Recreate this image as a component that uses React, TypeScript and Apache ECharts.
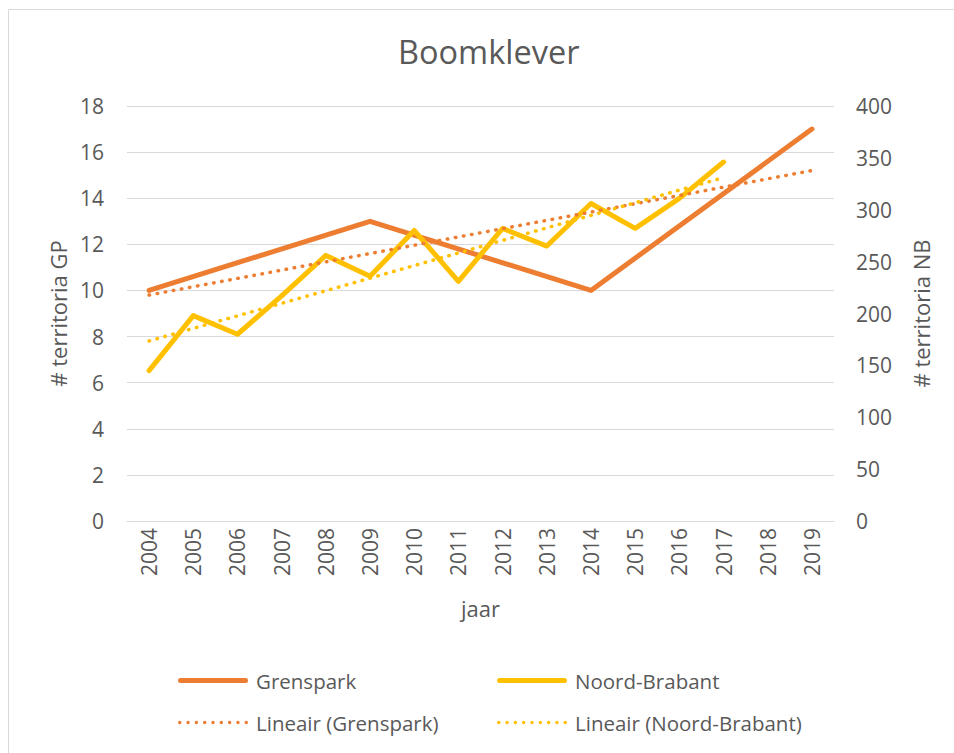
import React, { useEffect, useRef } from "react";
import * as echarts from "echarts";

const years = ["2004","2005","2006","2007","2008","2009","2010","2011","2012","2013","2014","2015","2016","2017","2018","2019"];
const grenspark = [10, null, null, null, null, 13, null, null, null, null, 10, null, null, null, null, 17];
const noordBrabant = [145, 198, 180, 217, 256, 236, 280, 231, 282, 265, 306, 282, 311, 346, null, null];
const trendGrenspark = [9.8, null, null, null, null, null, null, null, null, null, null, null, null, null, null, 15.2];
const trendNoordBrabant = [173.5, null, null, null, null, null, null, null, null, null, null, null, null, 331, null, null];

const FONT = "Open Sans";
const TXT = "#595959";
const GRID = "#d9d9d9";
const ORANGE = "#ED7D31";
const YELLOW = "#FFC000";

const SOLID_ICON = "path://M2.5,0H67.5A2.5,2.5,0,0,1,67.5,5H2.5A2.5,2.5,0,0,1,2.5,0Z";
function dottedIcon(): string {
  const r = 1.75;
  const n = 9;
  const step = (70 - 2 * r) / (n - 1);
  let d = "path://";
  for (let i = 0; i < n; i++) {
    const cx = r + i * step;
    d += `M${(cx - r).toFixed(3)},${r}A${r},${r},0,1,0,${(cx + r).toFixed(3)},${r}A${r},${r},0,1,0,${(cx - r).toFixed(3)},${r}Z`;
  }
  return d;
}
const DOTTED_ICON = dottedIcon();

export default function App() {
  const ref = useRef<HTMLDivElement>(null);
  useEffect(() => {
    document.body.style.margin = "0";
    const chart = echarts.init(ref.current!, null, { renderer: "svg" });
    const legendBase = {
      orient: "horizontal",
      padding: 0,
      itemWidth: 70,
      textStyle: { fontFamily: FONT, fontSize: 20.5, color: TXT, padding: [0, 0, 0, 3] },
      itemStyle: { borderWidth: 0 },
      selectedMode: false,
    };
    chart.setOption({
      animation: false,
      backgroundColor: "#ffffff",
      textStyle: { fontFamily: FONT },
      title: {
        text: "Boomklever",
        left: 393,
        top: 30,
        textStyle: { fontFamily: FONT, fontSize: 32.5, fontWeight: "normal", color: TXT },
      },
      graphic: [
        {
          type: "rect",
          left: 6,
          top: 7,
          shape: { width: 1000, height: 800 },
          style: { fill: "none", stroke: GRID, lineWidth: 1 },
          silent: true,
        },
      ],
      grid: { left: 127, right: 120, top: 106, bottom: 232, containLabel: false },
      legend: [
        { ...legendBase, itemHeight: 5, data: [{ name: "Grenspark", icon: SOLID_ICON }], left: 178, top: 670 },
        { ...legendBase, itemHeight: 5, data: [{ name: "Noord-Brabant", icon: SOLID_ICON }], left: 497, top: 670 },
        { ...legendBase, itemHeight: 3.5, data: [{ name: "Lineair (Grenspark)", icon: DOTTED_ICON }], left: 178, top: 712 },
        { ...legendBase, itemHeight: 3.5, data: [{ name: "Lineair (Noord-Brabant)", icon: DOTTED_ICON }], left: 497, top: 712 },
      ],
      xAxis: {
        type: "category",
        data: years,
        boundaryGap: true,
        name: "jaar",
        nameLocation: "middle",
        nameGap: 76,
        nameTextStyle: { fontFamily: FONT, fontSize: 22, color: TXT },
        axisLine: { show: true, lineStyle: { color: GRID, width: 1 } },
        axisTick: { show: false },
        axisLabel: { rotate: 90, fontFamily: FONT, fontSize: 21, color: TXT, margin: 7 },
      },
      yAxis: [
        {
          type: "value",
          min: 0,
          max: 18,
          interval: 2,
          name: "# territoria GP",
          nameLocation: "middle",
          nameGap: 55,
          nameTextStyle: { fontFamily: FONT, fontSize: 22, color: TXT },
          axisLine: { show: false },
          axisTick: { show: false },
          axisLabel: { fontFamily: FONT, fontSize: 21, color: TXT, margin: 23 },
          splitLine: { show: true, lineStyle: { color: GRID, width: 1 } },
        },
        {
          type: "value",
          min: 0,
          max: 400,
          interval: 50,
          name: "# territoria NB",
          nameLocation: "middle",
          nameGap: 76,
          nameRotate: 90,
          nameTextStyle: { fontFamily: FONT, fontSize: 22, color: TXT },
          axisLine: { show: false },
          axisTick: { show: false },
          axisLabel: { fontFamily: FONT, fontSize: 21, color: TXT, margin: 22 },
          splitLine: { show: false },
        },
      ],
      series: [
        {
          name: "Grenspark",
          type: "line",
          yAxisIndex: 0,
          data: grenspark,
          connectNulls: true,
          symbol: "none",
          color: ORANGE,
          itemStyle: { color: ORANGE },
          lineStyle: { color: ORANGE, width: 5, cap: "round", join: "round" },
          z: 2,
        },
        {
          name: "Noord-Brabant",
          type: "line",
          yAxisIndex: 1,
          data: noordBrabant,
          connectNulls: false,
          symbol: "none",
          color: YELLOW,
          itemStyle: { color: YELLOW },
          lineStyle: { color: YELLOW, width: 5, cap: "round", join: "round" },
          z: 3,
        },
        {
          name: "Lineair (Grenspark)",
          type: "line",
          yAxisIndex: 0,
          data: trendGrenspark,
          connectNulls: true,
          symbol: "none",
          color: ORANGE,
          itemStyle: { color: ORANGE },
          lineStyle: { color: ORANGE, width: 3.5, type: [0.5, 7.7], cap: "round" },
          z: 4,
        },
        {
          name: "Lineair (Noord-Brabant)",
          type: "line",
          yAxisIndex: 1,
          data: trendNoordBrabant,
          connectNulls: true,
          symbol: "none",
          color: YELLOW,
          itemStyle: { color: YELLOW },
          lineStyle: { color: YELLOW, width: 3.5, type: [0.5, 7.7], cap: "round" },
          z: 5,
        },
      ],
    });
    return () => chart.dispose();
  }, []);
  return <div ref={ref} style={{ width: 954, height: 753 }} />;
}
